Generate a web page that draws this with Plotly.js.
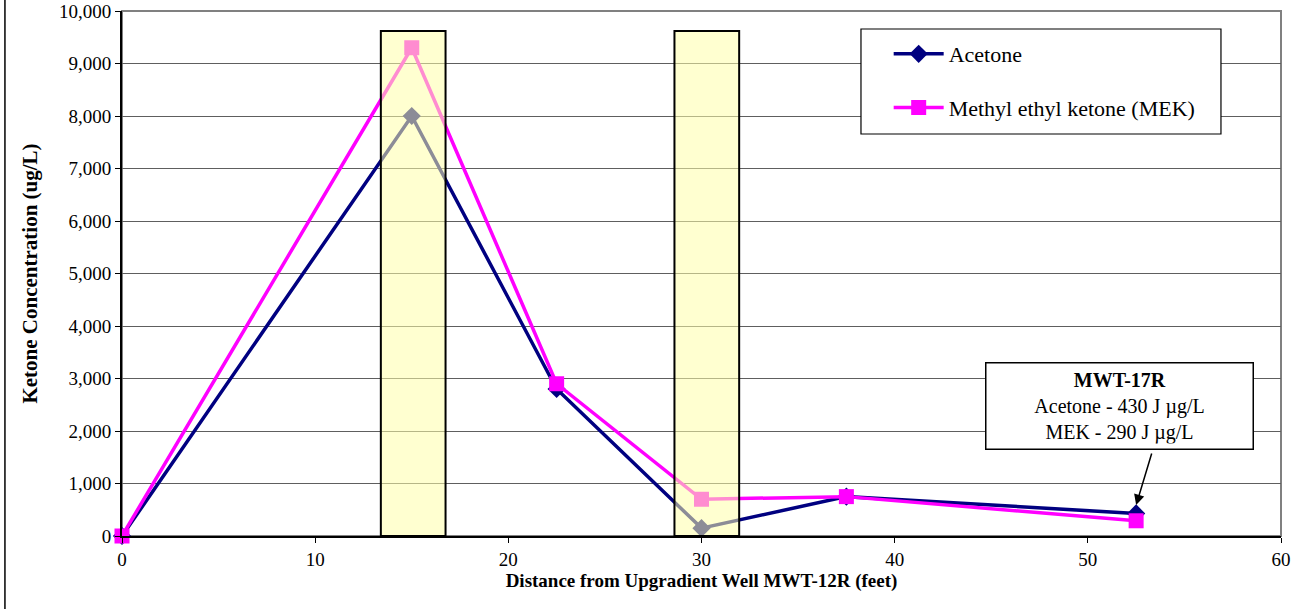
<!DOCTYPE html>
<html><head><meta charset="utf-8">
<script src="https://cdn.plot.ly/plotly-3.0.1.min.js"></script>
<style>body{margin:0;background:#fff}#chart{width:1312px;height:609px}</style>
</head><body><div id="chart"></div>
<script>
const distance = [0, 15, 22.5, 30, 37.5, 52.5];
const acetone = [0, 8000, 2800, 150, 750, 430];
const mek = [0, 9300, 2900, 700, 750, 290];
const highlightRanges = [[13.4, 16.75], [28.6, 31.95]];
const highlightTop = 9620;

const font = '"Liberation Serif", "Times New Roman", serif';
const traces = [
  {x: distance, y: acetone, name: 'Acetone', legendgroup: 'a', mode: 'lines+markers', cliponaxis: false,
   line: {color: '#000080', width: 3.5}, marker: {symbol: 'diamond', size: 14, color: '#000080'}},
  {x: distance, y: mek, name: 'Methyl ethyl ketone (MEK)', legendgroup: 'b', mode: 'lines+markers', cliponaxis: false,
   line: {color: '#FF00FF', width: 3.5}, marker: {symbol: 'square', size: 15, color: '#FF00FF'}}
];
const shapes = highlightRanges.map(r => ({type: 'rect', xref: 'x', yref: 'y', x0: r[0], x1: r[1], y0: 0, y1: highlightTop,
  fillcolor: 'rgba(255,255,170,0.55)', line: {color: '#000', width: 2}, layer: 'above'}));
shapes.push({type: 'rect', xref: 'paper', yref: 'paper', x0: 0, x1: 1, y0: 0, y1: 1, line: {color: '#808080', width: 2}, layer: 'below'});
shapes.push({type: 'line', xref: 'paper', yref: 'paper', x0: -0.101, x1: -0.101, y0: -0.2, y1: 1.05, line: {color: '#000', width: 1.5}});
// legend frame
shapes.push({type: 'rect', xref: 'paper', yref: 'paper', x0: 0.6376, x1: 0.9482, y0: 0.7657, y1: 0.9657,
  fillcolor: '#fff', line: {color: '#000', width: 1.2}, layer: 'above'});
const layout = {
  width: 1312, height: 609,
  margin: {l: 122, r: 31, t: 11, b: 73},
  paper_bgcolor: '#fff', plot_bgcolor: '#fff',
  font: {family: font, size: 19, color: '#000'},
  showlegend: true,
  legend: {x: 0.6615, y: 0.958, xanchor: 'left', yanchor: 'top', bgcolor: 'rgba(0,0,0,0)', borderwidth: 0,
    font: {family: font, size: 22}, tracegroupgap: 22, itemwidth: 50},
  xaxis: {range: [0, 60], dtick: 10, tick0: 0, showgrid: false, zeroline: false, showline: true, linecolor: '#000', linewidth: 2,
    ticks: 'outside', ticklen: 5, tickcolor: '#000', tickfont: {family: font, size: 19},
    title: {text: '<b>Distance from Upgradient Well MWT-12R (feet)</b>', font: {family: font, size: 19}, standoff: 5}},
  yaxis: {range: [0, 10000], dtick: 1000, tickformat: ',d', showgrid: true, gridcolor: '#5e5e5e', gridwidth: 1, zeroline: false,
    showline: true, linecolor: '#000', linewidth: 2, ticks: 'outside', ticklen: 5, tickcolor: '#000', tickfont: {family: font, size: 19},
    title: {text: '<b>Ketone Concentration (ug/L)</b>', font: {family: font, size: 21}, standoff: 16}},
  shapes: shapes,
  annotations: [
    {xref: 'x', yref: 'y', x: 52.5, y: 590, ax: 16, ay: -53, axref: 'pixel', ayref: 'pixel',
     text: '', showarrow: true, arrowhead: 2, arrowsize: 1.4, arrowwidth: 1.5, arrowcolor: '#000'},
    {xref: 'paper', yref: 'paper', x: 0.7446, y: 0.3314, xanchor: 'left', yanchor: 'top',
     text: '<b>MWT-17R</b><br>Acetone - 430 J µg/L<br>MEK - 290 J µg/L', showarrow: false, align: 'center',
     font: {family: font, size: 20}, bgcolor: '#fff', bordercolor: '#000', borderwidth: 1.5, borderpad: 5, width: 256}
  ]
};
Plotly.newPlot('chart', traces, layout, {displayModeBar: false});
</script></body></html>
